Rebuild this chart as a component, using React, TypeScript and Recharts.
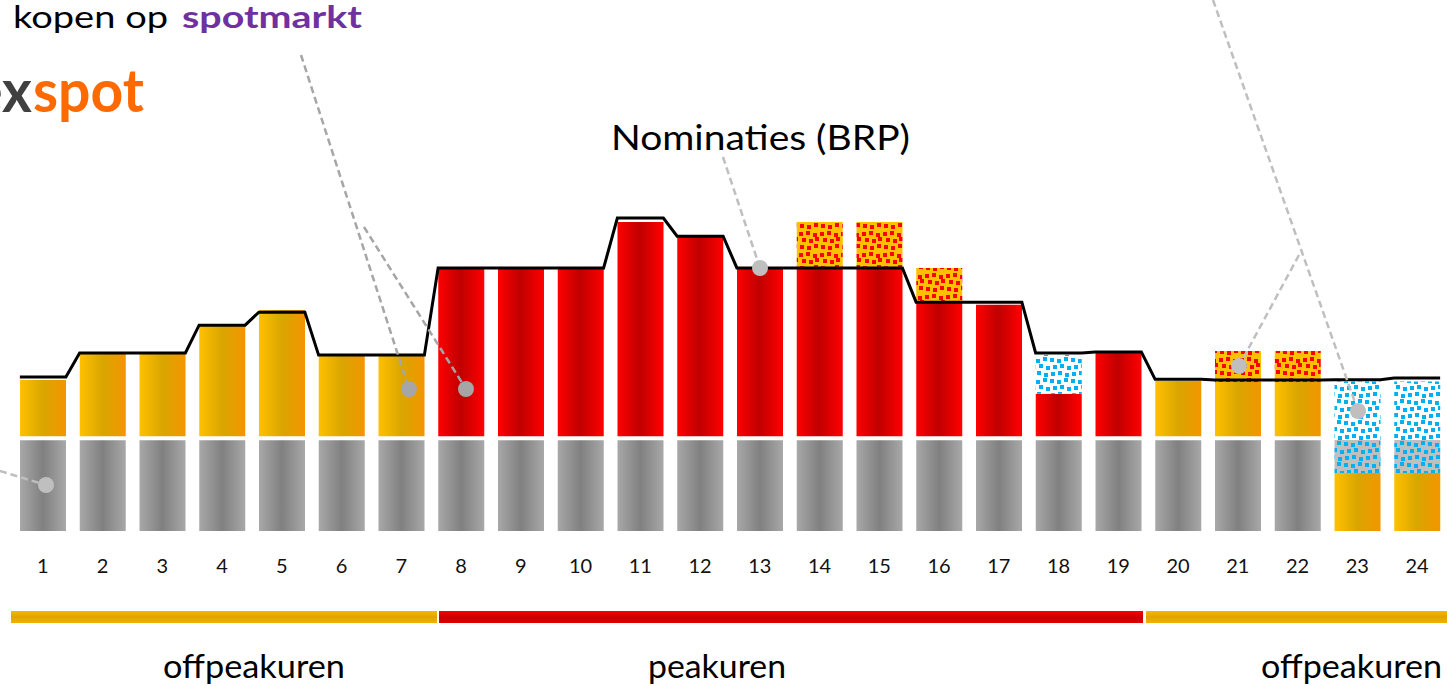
import React from 'react';
import { ComposedChart, Bar, Line, XAxis, YAxis } from 'recharts';

const W = 1447;
const H = 686;
const FONT = "Lato, 'Open Sans', sans-serif";

// hours
const uren = ['1','2','3','4','5','6','7','8','9','10','11','12','13','14','15','16','17','18','19','20','21','22','23','24'];

// stacked volumes (bottom -> top)
const laagOranje =    [0,0,0,0,0,0,0,0,0,0,0,0,0,0,0,0,0,0,0,0,0,0,19.2,19.2];
const grijsVerkocht = [0,0,0,0,0,0,0,0,0,0,0,0,0,0,0,0,0,0,0,0,0,0,10.9,10.9];
const basis =         [30,30,30,30,30,30,30,30,30,30,30,30,30,30,30,30,30,30,30,30,30,30,0,0];
const tussenruimte =  [1.3,1.3,1.3,1.3,1.3,1.3,1.3,1.3,1.3,1.3,1.3,1.3,1.3,1.3,1.3,1.3,1.3,1.3,1.3,1.3,1.3,1.3,0,0];
const offpeak =       [18.6,27.5,27.5,36.7,41.7,26.5,26.8,0,0,0,0,0,0,0,0,0,0,0,0,18.3,17.9,17.9,0,0];
const peak =          [0,0,0,0,0,0,0,55.6,55.6,55.6,70.8,65.8,55.6,55.6,55.6,44.0,43.4,14.0,27.8,0,0,0,0,0];
const verkoopSpot =   [0,0,0,0,0,0,0,0,0,0,0,0,0,0,0,0,0,12.8,0,0,0,0,19.3,19.3];
const koopSpot =      [0,0,0,0,0,0,0,0,0,0,0,0,0,15.2,15.2,11.6,0,0,0,0,10.3,10.3,0,0];

// nominations (BRP) per hour
const nominaties = [50.9,58.8,58.8,68.0,72.3,58.1,58.1,86.9,86.9,86.9,103.4,97.4,86.9,86.9,86.9,75.6,75.6,58.8,59.1,50.1,49.9,49.9,50.0,50.5];

const data = uren.map((uur, i) => ({
  uur,
  laagOranje: laagOranje[i],
  grijsVerkocht: grijsVerkocht[i],
  basis: basis[i],
  tussenruimte: tussenruimte[i],
  offpeak: offpeak[i],
  peak: peak[i],
  verkoopSpot: verkoopSpot[i],
  koopSpot: koopSpot[i],
}));

const HALF = 0.385;
const lijnData = nominaties.flatMap((v, i) => [
  { x: i + 1 - HALF, y: v },
  { x: i + 1 + HALF, y: v },
]);

const UurTick = (props: any) => (
  <text x={props.x} y={573} textAnchor="middle" fontSize={20} fontFamily={FONT} fill="#111">
    {props.payload.value}
  </text>
);

const redSq = [[1,1],[8,0],[15,2],[4,7],[11,8],[17,6],[2,14],[9,15],[16,13]];
const blueSq = [[0,1],[7,2],[14,0],[3,8],[10,7],[17,9],[1,15],[8,14],[15,16]];

const Annot = ({ x1, y1, x2, y2, color }: any) => (
  <g>
    <line x1={x1} y1={y1} x2={x2} y2={y2} stroke={color} strokeWidth={2.5} strokeDasharray="7 4" />
    <circle cx={x2} cy={y2} r={8} fill={color} />
  </g>
);

export default function App() {
  return (
    <div style={{ position: 'absolute', left: 0, top: 0, width: W, height: H, background: '#fff' }}>
      <ComposedChart
        width={W}
        height={H}
        data={data}
        margin={{ top: 198, right: 0, bottom: 125, left: 13 }}
        barSize={46}
      >
        <defs>
          <linearGradient id="gOranje" x1="0" y1="0" x2="1" y2="0">
            <stop offset="0%" stopColor="#FFC000" />
            <stop offset="50%" stopColor="#D9A600" />
            <stop offset="100%" stopColor="#F39500" />
          </linearGradient>
          <linearGradient id="gRood" x1="0" y1="0" x2="1" y2="0">
            <stop offset="0%" stopColor="#FF0000" />
            <stop offset="48%" stopColor="#C00000" />
            <stop offset="100%" stopColor="#FF0000" />
          </linearGradient>
          <linearGradient id="gGrijs" x1="0" y1="0" x2="1" y2="0">
            <stop offset="0%" stopColor="#A8A8A8" />
            <stop offset="50%" stopColor="#808080" />
            <stop offset="100%" stopColor="#A8A8A8" />
          </linearGradient>
          <pattern id="pKoop" patternUnits="userSpaceOnUse" width={21} height={21}>
            <rect width={21} height={21} fill="#FFC000" />
            {redSq.map(([x, y], k) => (
              <rect key={k} x={x} y={y} width={4} height={4} fill="#FF0000" />
            ))}
          </pattern>
          <pattern id="pVerkoop" patternUnits="userSpaceOnUse" width={21} height={21}>
            <rect width={21} height={21} fill="#FFFFFF" />
            {blueSq.map(([x, y], k) => (
              <rect key={k} x={x} y={y} width={4} height={4} fill="#00B0F0" />
            ))}
          </pattern>
          <pattern id="pGrijsBlauw" patternUnits="userSpaceOnUse" width={21} height={21}>
            <rect width={21} height={21} fill="#BFBFBF" />
            {blueSq.map(([x, y], k) => (
              <rect key={k} x={x} y={y} width={4} height={4} fill="#00B0F0" />
            ))}
          </pattern>
        </defs>
        <XAxis
          xAxisId="cat"
          dataKey="uur"
          axisLine={false}
          tickLine={false}
          interval={0}
          height={30}
          tick={UurTick}
        />
        <XAxis xAxisId="num" type="number" dataKey="x" domain={[0.5, 24.5]} hide allowDataOverflow />
        <YAxis hide domain={[0, 110]} allowDataOverflow />
        <Bar xAxisId="cat" dataKey="laagOranje" stackId="s" fill="url(#gOranje)" isAnimationActive={false} />
        <Bar xAxisId="cat" dataKey="grijsVerkocht" stackId="s" fill="url(#pGrijsBlauw)" isAnimationActive={false} />
        <Bar xAxisId="cat" dataKey="basis" stackId="s" fill="url(#gGrijs)" isAnimationActive={false} />
        <Bar xAxisId="cat" dataKey="tussenruimte" stackId="s" fill="none" isAnimationActive={false} />
        <Bar xAxisId="cat" dataKey="offpeak" stackId="s" fill="url(#gOranje)" isAnimationActive={false} />
        <Bar xAxisId="cat" dataKey="peak" stackId="s" fill="url(#gRood)" isAnimationActive={false} />
        <Bar xAxisId="cat" dataKey="verkoopSpot" stackId="s" fill="url(#pVerkoop)" isAnimationActive={false} />
        <Bar xAxisId="cat" dataKey="koopSpot" stackId="s" fill="url(#pKoop)" isAnimationActive={false} />
        <Line
          xAxisId="num"
          data={lijnData}
          dataKey="y"
          type="linear"
          stroke="#000"
          strokeWidth={3}
          dot={false}
          activeDot={false}
          isAnimationActive={false}
        />
      </ComposedChart>
      <svg
        width={W}
        height={H}
        style={{ position: 'absolute', left: 0, top: 0, pointerEvents: 'none' }}
      >
        <defs>
          <linearGradient id="bOranje" x1="0" y1="0" x2="0" y2="1">
            <stop offset="0%" stopColor="#F8B800" />
            <stop offset="50%" stopColor="#E3A300" />
            <stop offset="100%" stopColor="#F3B000" />
          </linearGradient>
          <linearGradient id="bRood" x1="0" y1="0" x2="0" y2="1">
            <stop offset="0%" stopColor="#FF0000" />
            <stop offset="55%" stopColor="#C80000" />
            <stop offset="100%" stopColor="#E00000" />
          </linearGradient>
        </defs>
        <text x={13} y={28} fontSize={31} fontFamily={FONT} fill="#000" textLength={155} lengthAdjust="spacingAndGlyphs">kopen op</text>
        <text x={182} y={28} fontSize={31} fontFamily={FONT} fontWeight={700} fill="#7030A0" textLength={180} lengthAdjust="spacingAndGlyphs">spotmarkt</text>
        <text x={-28} y={112} fontSize={60} fontFamily={FONT} fontWeight={700} fill="#404040" textLength={60} lengthAdjust="spacingAndGlyphs">ex</text>
        <text x={33} y={112} fontSize={60} fontFamily={FONT} fontWeight={700} fill="#FF6A00" textLength={111} lengthAdjust="spacingAndGlyphs">spot</text>
        <text x={611} y={150} fontSize={35} fontFamily={FONT} fill="#000" textLength={299} lengthAdjust="spacingAndGlyphs">Nominaties (BRP)</text>

        <rect x={11} y={611} width={426} height={12} fill="url(#bOranje)" />
        <rect x={439} y={611} width={704} height={12} fill="url(#bRood)" />
        <rect x={1146} y={611} width={301} height={12} fill="url(#bOranje)" />

        <text x={163} y={678} fontSize={32} fontFamily={FONT} fill="#000" textLength={182} lengthAdjust="spacingAndGlyphs">offpeakuren</text>
        <text x={648} y={678} fontSize={32} fontFamily={FONT} fill="#000" textLength={138} lengthAdjust="spacingAndGlyphs">peakuren</text>
        <text x={1261} y={678} fontSize={32} fontFamily={FONT} fill="#000" textLength={181} lengthAdjust="spacingAndGlyphs">offpeakuren</text>

        <Annot x1={0} y1={471} x2={46} y2={485} color="#BFBFBF" />
        <Annot x1={301} y1={55} x2={409} y2={389} color="#A6A6A6" />
        <Annot x1={364} y1={227} x2={466} y2={389} color="#A6A6A6" />
        <Annot x1={723} y1={157} x2={760} y2={268} color="#BFBFBF" />
        <Annot x1={1213} y1={0} x2={1358} y2={411} color="#BFBFBF" />
        <Annot x1={1299} y1={255} x2={1239} y2={366} color="#BFBFBF" />
      </svg>
    </div>
  );
}
